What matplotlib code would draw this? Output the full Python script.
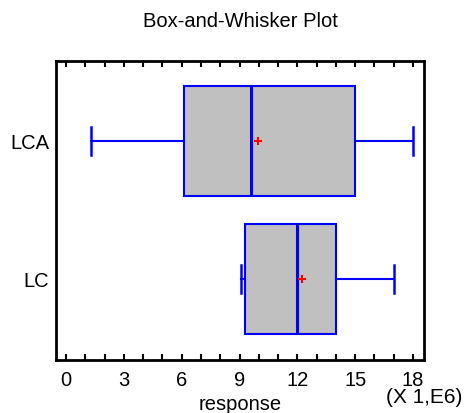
import matplotlib
matplotlib.use('Agg')
import matplotlib.pyplot as plt
from matplotlib.ticker import MultipleLocator

plt.rcParams['font.family'] = ['Liberation Sans', 'DejaVu Sans']

# values (units of 1E6)
groups = ['LC', 'LCA']
whisker_lo = [9.08, 1.30]
q1 = [9.28, 6.14]
medians = [11.98, 9.61]
q3 = [14.02, 15.0]
whisker_hi = [17.03, 18.0]
means = [12.22, 9.94]

stats = []
for i, g in enumerate(groups):
    stats.append({'label': g, 'whislo': whisker_lo[i], 'q1': q1[i], 'med': medians[i],
                  'q3': q3[i], 'whishi': whisker_hi[i], 'mean': means[i], 'fliers': []})

fig = plt.figure(figsize=(4.65, 4.14), dpi=100)
ax = fig.add_axes([0.1204, 0.128, 0.7914, 0.722])

ax.bxp(stats, positions=[1, 2], vert=False, widths=0.8, patch_artist=True,
       showmeans=True, showcaps=True,
       boxprops=dict(facecolor='#c0c0c0', edgecolor='blue', linewidth=1.5),
       medianprops=dict(color='blue', linewidth=2.2),
       whiskerprops=dict(color='blue', linewidth=1.5),
       capprops=dict(color='blue', linewidth=1.8),
       meanprops=dict(marker='+', markeredgecolor='red', markersize=6, markeredgewidth=1.5),
       capwidths=0.2)

ax.set_xlim(-0.52, 18.57)
ax.set_ylim(0.41, 2.58)
ax.xaxis.set_major_locator(MultipleLocator(3))
ax.xaxis.set_minor_locator(MultipleLocator(1))
ax.tick_params(axis='x', which='both', direction='in', top=True, length=4, width=1.5,
               labelsize=14.5, pad=7)
ax.tick_params(axis='y', which='both', length=0, labelsize=14.5, pad=5)
ax.set_yticks([1, 2])
ax.set_yticklabels(groups)
for s in ax.spines.values():
    s.set_linewidth(2)

fig.text(0.516, 0.0, 'response', fontsize=14.5, ha='center', va='bottom')
fig.text(0.516, 0.949, 'Box-and-Whisker Plot', fontsize=14.5, ha='center', va='center')
fig.text(0.994, 0.039, '(X 1,E6)', fontsize=15, ha='right', va='center')

plt.savefig('out.png', dpi=100)
plt.close()
